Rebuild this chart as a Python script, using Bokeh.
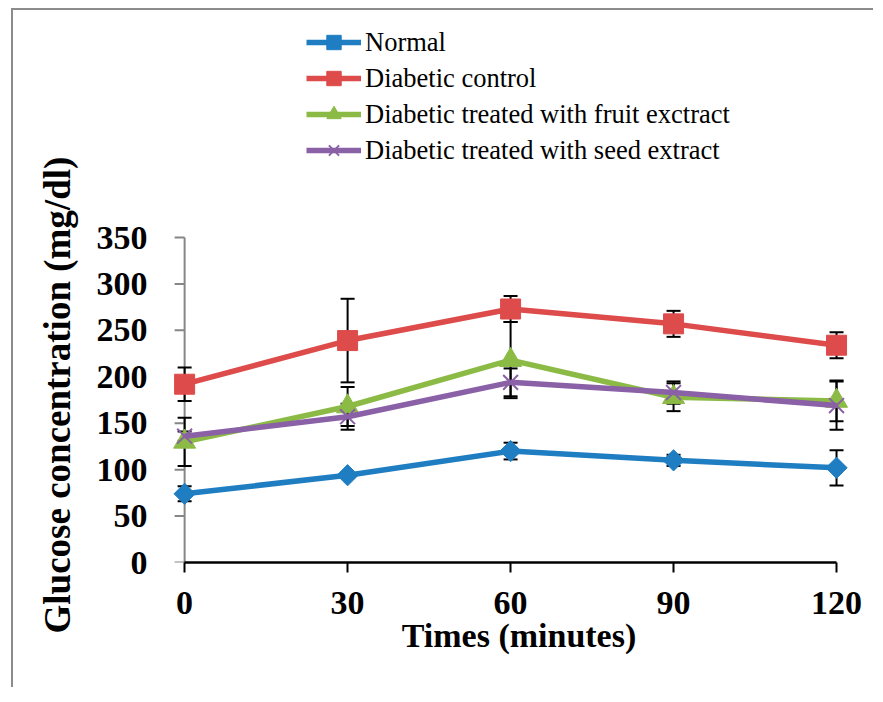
from bokeh.plotting import figure
from bokeh.models import Range1d, FixedTicker, Legend, LegendItem, Title
from bokeh.embed import file_html
from bokeh.resources import INLINE

# ---- data ----
times = [0, 30, 60, 90, 120]
y_ticks = [0, 50, 100, 150, 200, 250, 300, 350]

normal = [74, 94, 120, 110, 102]
normal_err = [8, 3, 9, 6, 19]
control = [192, 239, 273, 257, 234]
control_err = [18, 45, 14, 14, 14]
fruit = [130, 168, 218, 178, 174]
fruit_err = [26, 21, 41, 15, 22]
seed = [136, 157, 194, 183, 169]
seed_err = [5, 14, 15, 12, 26]

names = ["Normal", "Diabetic control", "Diabetic treated with fruit exctract",
         "Diabetic treated with seed extract"]
series = [normal, control, fruit, seed]
errors = [normal_err, control_err, fruit_err, seed_err]
colors = ["#1f7dc2", "#dd4b4b", "#8bba45", "#8a60a6"]

FONT = "Liberation Serif"
AXIS_GREY = "#868686"

# frame geometry (pixels); frame reaches the top so the legend sits inside it
PX_PER_X = 679 / 125.0
X0, X1 = -2.6, 125.7
FRAME_W = int(round((X1 - X0) * PX_PER_X))
FRAME_H = 552
AXIS_PX = 325                       # pixel height of 0..350
Y_TOP = 350 * FRAME_H / AXIS_PX

p = figure(frame_width=FRAME_W, frame_height=FRAME_H,
           min_border_left=157, min_border_right=6,
           min_border_top=0, min_border_bottom=125,
           x_range=Range1d(X0, X1), y_range=Range1d(0, Y_TOP),
           output_backend="svg", toolbar_location=None,
           background_fill_color="white", border_fill_color="white",
           outline_line_color=None)
p.grid.visible = False
p.styles = {"margin-left": "11px", "margin-top": "8px",
            "border-left": "2px solid #8c8c8c", "border-top": "2px solid #8c8c8c"}

# y axis line and outward ticks drawn at x = 0
p.segment(x0=[0], y0=[y_ticks[0]], x1=[0], y1=[y_ticks[-1]], line_color=AXIS_GREY, line_width=2)
tick_len = 10 / PX_PER_X
p.segment(x0=[0] * len(y_ticks), y0=y_ticks, x1=[-tick_len] * len(y_ticks), y1=y_ticks,
          line_color=AXIS_GREY, line_width=2)

# error bars (under the lines/markers)
for vals, errs in zip(series, errors):
    lo = [v - e for v, e in zip(vals, errs)]
    hi = [v + e for v, e in zip(vals, errs)]
    p.segment(x0=times, y0=lo, x1=times, y1=hi, line_color="black", line_width=2)
    p.scatter(x=times, y=lo, marker="dash", size=14, line_color="black", line_width=2)
    p.scatter(x=times, y=hi, marker="dash", size=14, line_color="black", line_width=2)

items = []
marker_specs = [
    dict(marker="square", size=15, angle=0.7853981634),
    dict(marker="square", size=20, angle=0.0),
    dict(marker="triangle", size=22, angle=0.0),
    dict(marker="x", size=21, angle=0.0),
]
for name, vals, col, spec in zip(names, series, colors, marker_specs):
    lr = p.line(times, vals, line_color=col, line_width=5.5)
    if spec["marker"] == "x":
        sr = p.scatter(times, vals, marker="x", size=spec["size"], line_color=col, line_width=2)
    else:
        sr = p.scatter(times, vals, marker=spec["marker"], size=spec["size"], angle=spec["angle"],
                       fill_color=col, line_color=col, line_width=1)
    items.append(LegendItem(label=name, renderers=[lr, sr]))

# x axis
xa = p.xaxis[0]
xa.ticker = FixedTicker(ticks=times)
xa.bounds = (0, 120)
xa.axis_line_color = "black"
xa.axis_line_width = 2.5
xa.major_tick_line_color = "black"
xa.major_tick_line_width = 2
xa.major_tick_out = 10
xa.major_tick_in = 0
xa.minor_tick_line_color = None
xa.major_label_text_font = FONT
xa.major_label_text_font_style = "bold"
xa.major_label_text_font_size = "34px"
xa.major_label_text_color = "black"
xa.major_label_standoff = 19
xa.axis_label = "Times (minutes)"
xa.axis_label_text_font = FONT
xa.axis_label_text_font_style = "bold"
xa.axis_label_text_font_size = "34px"
xa.axis_label_text_color = "black"
xa.axis_label_standoff = 0

# y axis (labels only; line/ticks drawn above at x = 0)
ya = p.yaxis[0]
ya.ticker = FixedTicker(ticks=y_ticks)
ya.axis_line_color = None
ya.major_tick_line_color = None
ya.major_tick_out = 0
ya.major_tick_in = 0
ya.minor_tick_line_color = None
ya.major_label_text_font = FONT
ya.major_label_text_font_style = "bold"
ya.major_label_text_font_size = "34px"
ya.major_label_text_color = "black"
ya.major_label_standoff = 23

# y axis title, placed along the 0..350 part of the axis
ytitle = Title(text="Glucose concentration (mg/dl)", align="left", offset=-71,
               vertical_align="bottom", standoff=32,
               text_font=FONT, text_font_style="bold", text_font_size="37px",
               text_color="black")
p.add_layout(ytitle, "left")

legend = Legend(items=items, location=(136, 394),
                label_text_font=FONT, label_text_font_size="26.5px",
                label_text_color="black",
                glyph_width=55, glyph_height=36, label_height=36,
                spacing=0, label_standoff=4, padding=0, margin=0,
                border_line_color=None, background_fill_alpha=0)
p.add_layout(legend)

open("out.html", "w").write(file_html(p, INLINE))
